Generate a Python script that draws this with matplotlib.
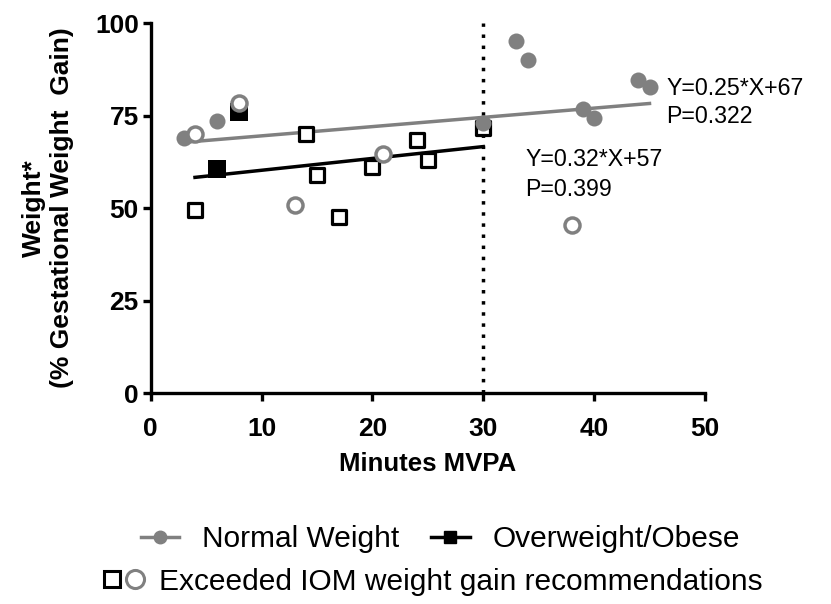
import matplotlib
matplotlib.use('Agg')
import matplotlib.pyplot as plt
from matplotlib.lines import Line2D
from matplotlib.legend_handler import HandlerTuple

plt.rcParams['font.family'] = ['Liberation Sans', 'DejaVu Sans']

# ---------------------------------------------------------------------------
# Data
# ---------------------------------------------------------------------------

# Normal weight, within recommendations (filled grey circles)
nw_x = [3, 6, 30, 33, 34, 39, 40, 44, 45]
nw_y = [69, 73.6, 73, 95.2, 90, 76.8, 74.2, 84.5, 82.8]

# Normal weight, exceeded IOM (open grey circles)
nw_ex_x = [4, 8, 13, 21, 38]
nw_ex_y = [70, 78.5, 50.8, 64.6, 45.5]

# Overweight/obese, within recommendations (filled black squares)
ow_x = [6, 8]
ow_y = [60.5, 76]

# Overweight/obese, exceeded IOM (open black squares)
ow_ex_x = [4, 14, 15, 17, 20, 24, 25, 30]
ow_ex_y = [49.5, 70, 59, 47.6, 61, 68.4, 63, 71.5]

# Fitted lines: slope, intercept, x start, x end
nw_fit = (0.25, 67, 3, 45)
ow_fit = (0.32, 57, 4, 30)

grey = '#808080'

fig = plt.figure(figsize=(8.31, 6.04), dpi=100)
ax = fig.add_axes([0.1813, 0.3493, 0.667, 0.6126])

# regression lines
for (m, b, x0, x1), c in [(nw_fit, grey), (ow_fit, 'black')]:
    ax.plot([x0, x1], [m * x0 + b, m * x1 + b], color=c, lw=2.5, zorder=2)

ax.axvline(30, color='black', ls=(0, (1, 2.2)), lw=2.5, zorder=1)

ax.scatter(ow_ex_x, ow_ex_y, marker='s', s=106, facecolors='white',
           edgecolors='black', linewidths=2.3, zorder=3)
ax.scatter(ow_x, ow_y, marker='s', s=150, color='black', linewidths=0, zorder=3)
ax.scatter(nw_x, nw_y, marker='o', s=133, color=grey, linewidths=0, zorder=4)
ax.scatter(nw_ex_x, nw_ex_y, marker='o', s=117, facecolors='white',
           edgecolors=grey, linewidths=2.5, zorder=4)

ax.text(46.5, 82.4, 'Y=0.25*X+67', fontsize=16.7, va='center', ha='left')
ax.text(46.5, 74.6, 'P=0.322', fontsize=16.7, va='center', ha='left')
ax.text(33.8, 63.0, 'Y=0.32*X+57', fontsize=16.7, va='center', ha='left')
ax.text(33.8, 54.9, 'P=0.399', fontsize=16.7, va='center', ha='left')

ax.set_xlim(0, 50)
ax.set_ylim(0, 100)
ax.set_xticks(range(0, 51, 10))
ax.set_yticks(range(0, 101, 25))
for s in ['top', 'right']:
    ax.spines[s].set_visible(False)
for s in ['left', 'bottom']:
    ax.spines[s].set_linewidth(2.4)
ax.tick_params(width=2.4, length=5.5, labelsize=19)
ax.tick_params(axis='x', pad=12)
ax.tick_params(axis='y', pad=3)
for lbl in ax.get_xticklabels() + ax.get_yticklabels():
    lbl.set_fontweight('bold')
ax.set_xlabel('Minutes MVPA', fontsize=18.5, fontweight='bold', labelpad=8)
ax.set_ylabel('Weight*\n(% Gestational Weight  Gain)', fontsize=19,
              fontweight='bold', labelpad=15, linespacing=1.2)

# legend
h1 = Line2D([], [], color=grey, lw=2.5, marker='o', markersize=9)
h2 = Line2D([], [], color='black', lw=2.5, marker='s', markersize=9)
fig.legend([h1, h2], ['Normal Weight', 'Overweight/Obese'],
           loc='center', bbox_to_anchor=(0.53, 0.107), ncol=2, frameon=False,
           fontsize=21.5, handlelength=1.3, columnspacing=1.05,
           handletextpad=0.77, borderpad=0)

sq = Line2D([], [], ls='none', marker='s', markersize=12, mfc='white',
            mec='black', mew=2.2)
ci = Line2D([], [], ls='none', marker='o', markersize=13, mfc='white',
            mec=grey, mew=2.2)
fig.legend([(sq, ci)], ['Exceeded IOM weight gain recommendations'],
           handler_map={tuple: HandlerTuple(ndivide=None, pad=0.05)},
           loc='center', bbox_to_anchor=(0.52, 0.037), frameon=False,
           fontsize=21.5, handlelength=1.5, handletextpad=0.45, borderpad=0)

fig.savefig('out.png', dpi=100)
